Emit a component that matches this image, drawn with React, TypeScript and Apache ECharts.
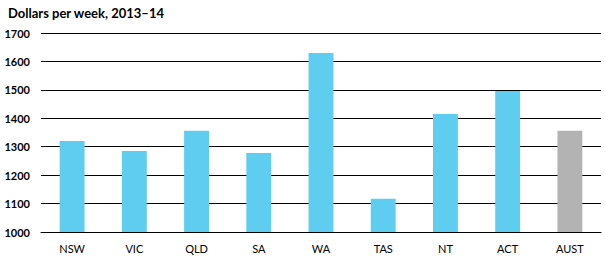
import React, { useEffect, useRef } from "react";
import * as echarts from "echarts";

const categories = ["NSW", "VIC", "QLD", "SA", "WA", "TAS", "NT", "ACT", "AUST"];
const values = [1320, 1285, 1356, 1278, 1630, 1117, 1415, 1496, 1356];
const yTicks = { min: 1000, max: 1700, interval: 100 };
const title = "Dollars per week, 2013–14";

export default function App() {
  const ref = useRef<HTMLDivElement>(null);
  useEffect(() => {
    if (!ref.current) return;
    document.body.style.margin = "0";
    const chart = echarts.init(ref.current, null, { renderer: "svg" });
    chart.setOption({
      animation: false,
      title: {
        text: title,
        left: 8,
        top: 6,
        padding: 0,
        textStyle: { fontFamily: "Lato", fontWeight: "bold", fontSize: 13, color: "#000" },
      },
      grid: { left: 41, right: 4, top: 33, bottom: 34 },
      xAxis: {
        type: "category",
        data: categories,
        axisLine: { show: true, lineStyle: { color: "#000", width: 1 } },
        axisTick: { show: false },
        axisLabel: { fontFamily: "Lato", fontSize: 11, color: "#000", margin: 11 },
      },
      yAxis: {
        type: "value",
        min: yTicks.min,
        max: yTicks.max,
        interval: yTicks.interval,
        axisLine: { show: false },
        axisTick: { show: false },
        axisLabel: {
          fontFamily: "Lato",
          fontWeight: "bold",
          fontSize: 11,
          color: "#000",
          margin: 11,
          formatter: (v: number) => String(v),
        },
        splitLine: { lineStyle: { color: "#000", width: 1 } },
      },
      series: [
        {
          type: "bar",
          data: values.map((v, i) => ({
            value: v,
            itemStyle: { color: categories[i] === "AUST" ? "#B3B3B3" : "#5FCDF0" },
          })),
          barWidth: "40%",
        },
      ],
    });
    return () => chart.dispose();
  }, []);
  return <div ref={ref} style={{ width: 605, height: 266 }} />;
}
